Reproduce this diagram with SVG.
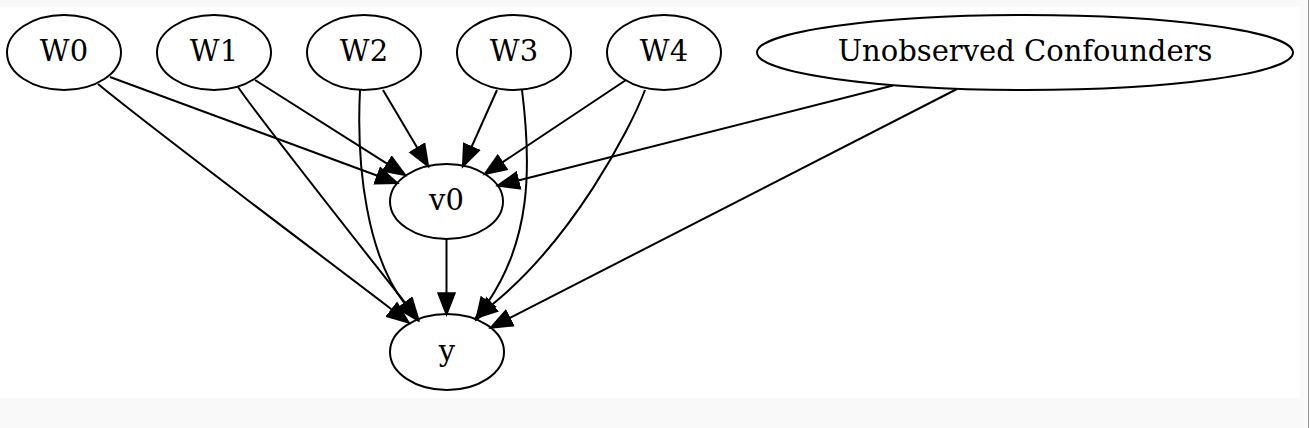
<svg xmlns="http://www.w3.org/2000/svg" width="1310" height="428" viewBox="0 0 1310 428">
<style>
.node ellipse{fill:none;stroke:#000;stroke-width:2}
.node text{font-family:"DejaVu Serif","Liberation Serif",serif;font-size:29px;text-anchor:middle;fill:#000}
.edges path{fill:none;stroke:#000;stroke-width:2}
</style>
<defs>
<marker id="arr" markerUnits="userSpaceOnUse" markerWidth="26" markerHeight="20" refX="1" refY="10" orient="auto" viewBox="0 0 26 20">
<path d="M1,1.8 L22,10 L1,18.2 z" fill="#000" stroke="#000" stroke-width="2"/>
</marker>
</defs>
<rect x="0" y="0" width="1310" height="428" fill="#f9f9f9"/>
<rect x="0" y="7" width="1300" height="391" fill="#fff"/>
<line x1="1308.5" y1="0" x2="1308.5" y2="428" stroke="#999" stroke-width="1"/>
<g class="edges">
<path marker-end="url(#arr)" d="M110,77 L377.5,175.8"/>
<path marker-end="url(#arr)" d="M98,84 C160,135 330,262 392,309.7"/>
<path marker-end="url(#arr)" d="M255,80 L387.4,163.9"/>
<path marker-end="url(#arr)" d="M238,87 C262,122 370,258 405.5,303.4"/>
<path marker-end="url(#arr)" d="M383,90 L417.4,148.1"/>
<path marker-end="url(#arr)" d="M360,90 C356,170 368,256 404.5,303.4"/>
<path marker-end="url(#arr)" d="M497,90 L471.5,147"/>
<path marker-end="url(#arr)" d="M522,90 C532,170 530,240 488.1,302"/>
<path marker-end="url(#arr)" d="M626,80 L502.3,162.4"/>
<path marker-end="url(#arr)" d="M645,90 C630,130 572,240 492,304.7"/>
<path marker-end="url(#arr)" d="M893,85.5 L518.2,180.5"/>
<path marker-end="url(#arr)" d="M957,89 L509.5,318.1"/>
<path marker-end="url(#arr)" d="M446.5,239 L446.5,293.2"/>
</g>
<g id="W0" class="node"><ellipse cx="64" cy="52.5" rx="57" ry="37.5"/><text x="64" y="61">W0</text></g>
<g id="W1" class="node"><ellipse cx="214" cy="52.5" rx="57" ry="37.5"/><text x="214" y="61">W1</text></g>
<g id="W2" class="node"><ellipse cx="364" cy="52.5" rx="57" ry="37.5"/><text x="364" y="61">W2</text></g>
<g id="W3" class="node"><ellipse cx="514" cy="52.5" rx="57" ry="37.5"/><text x="514" y="61">W3</text></g>
<g id="W4" class="node"><ellipse cx="664" cy="52.5" rx="57" ry="37.5"/><text x="664" y="61">W4</text></g>
<g id="U" class="node"><ellipse cx="1025" cy="52.5" rx="268" ry="37.5"/><text x="1025" y="61">Unobserved Confounders</text></g>
<g id="v0" class="node"><ellipse cx="446.5" cy="201.5" rx="56.5" ry="37.5"/><text x="446.5" y="210">v0</text></g>
<g id="y" class="node"><ellipse cx="447" cy="352" rx="57" ry="38"/><text x="447" y="360.5">y</text></g>
</svg>
